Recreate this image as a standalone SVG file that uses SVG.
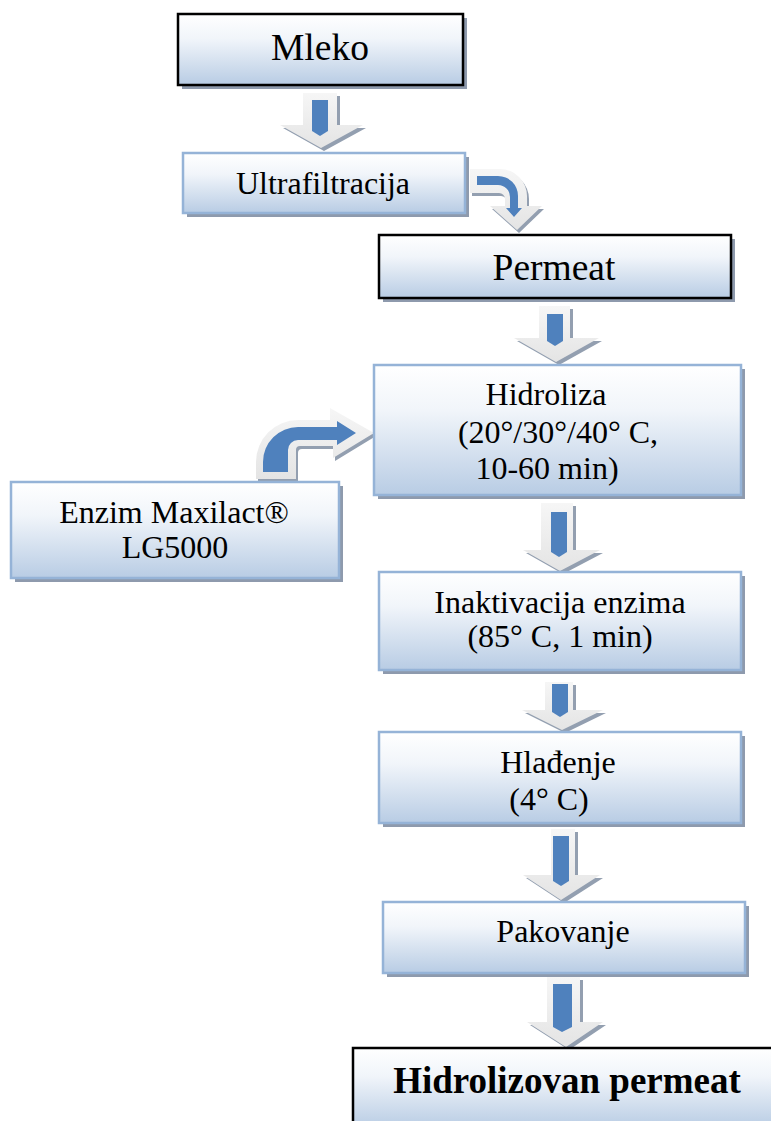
<svg xmlns="http://www.w3.org/2000/svg" width="771" height="1121" viewBox="0 0 771 1121">
<defs>
<linearGradient id="boxg" x1="0" y1="0" x2="0" y2="1">
<stop offset="0" stop-color="#ffffff"/>
<stop offset="0.35" stop-color="#f1f5fa"/>
<stop offset="1" stop-color="#b8cce4"/>
</linearGradient>
<linearGradient id="arrg" x1="0" y1="0" x2="0" y2="1">
<stop offset="0" stop-color="#f6f6f6"/>
<stop offset="1" stop-color="#e4e4e4"/>
</linearGradient>
<style>
.bx{fill:url(#boxg);stroke:#95b3d7;stroke-width:2.5}
.bk{fill:url(#boxg);stroke:#000;stroke-width:2.5}
.sh{fill:#8e9aad}
.al{fill:url(#arrg)}
.as{fill:#939fb0}
.ab{fill:#4f81bd}
text{font-family:"Liberation Serif","Times New Roman",serif;fill:#000;text-anchor:middle}
.t36{font-size:37.5px}
.t31{font-size:32px}
.tb{font-size:37px;font-weight:bold}
</style>
</defs>
<rect width="771" height="1121" fill="#fff"/>
<g id="connectors">
<g id="a1">
<polygon class="as" transform="translate(3,3)" points="303,93 337,93 337,125 363,125 321,148 280,125 303,125"/>
<polygon class="al" points="303,93 337,93 337,125 363,125 321,148 280,125 303,125"/>
<polygon class="ab" points="312,100 328,100 328,131 320,136 312,131"/>
</g>
<g id="a2">
<path class="as" transform="translate(2,3)" d="M470 169 L500 169 A27 27 0 0 1 527 196 L527 206 L542 206 L517 230 L490 206 L505 206 L505 199 A6 6 0 0 0 499 193 L470 193 Z"/>
<path class="al" d="M470 169 L500 169 A27 27 0 0 1 527 196 L527 206 L542 206 L517 230 L490 206 L505 206 L505 199 A6 6 0 0 0 499 193 L470 193 Z"/>
<path class="ab" d="M477 176 L498 176 A20 20 0 0 1 518 196 L518 208 L522 208 L514 217 L506 208 L510 208 L510 197 A12 12 0 0 0 498 185 L477 185 Z"/>
</g>
<g id="a3">
<polygon class="as" transform="translate(3,3)" points="539,306 570,306 570,338 599,338 556,362 514,338 539,338"/>
<polygon class="al" points="539,306 570,306 570,338 599,338 556,362 514,338 539,338"/>
<polygon class="ab" points="547,314 563,314 563,341 555,346 547,341"/>
</g>
<g id="a4">
<path class="as" transform="translate(2,3)" d="M256 479 L256 462 A42 42 0 0 1 298 420 L330 420 L330 408 L374 433 L333 458 L333 446 L300 446 A4 4 0 0 0 296 450 L296 479 Z"/>
<path class="al" d="M256 479 L256 462 A42 42 0 0 1 298 420 L330 420 L330 408 L374 433 L333 458 L333 446 L300 446 A4 4 0 0 0 296 450 L296 479 Z"/>
<path class="ab" d="M263 472 L263 462 A35 35 0 0 1 298 427 L337 427 L337 421 L356 433 L337 445 L337 440 L298 440 A10 10 0 0 0 288 450 L288 472 Z"/>
</g>
<g id="a5">
<polygon class="as" transform="translate(3,3)" points="541,503 573,503 573,550 600,550 560,571 523,550 541,550"/>
<polygon class="al" points="541,503 573,503 573,550 600,550 560,571 523,550 541,550"/>
<polygon class="ab" points="551,512 567,512 567,552 559,557 551,552"/>
</g>
<g id="a6">
<polygon class="as" transform="translate(3,3)" points="545,682 573,682 573,710 603,710 562,730 522,710 545,710"/>
<polygon class="al" points="545,682 573,682 573,710 603,710 562,730 522,710 545,710"/>
<polygon class="ab" points="552,684 568,684 568,712 560,717 552,712"/>
</g>
<g id="a7">
<polygon class="as" transform="translate(3,3)" points="551,829 575,829 575,875 600,875 561,900 523,875 551,875"/>
<polygon class="al" points="551,829 575,829 575,875 600,875 561,900 523,875 551,875"/>
<polygon class="ab" points="553,836 569,836 569,881 561,886 553,881"/>
</g>
<g id="a8">
<polygon class="as" transform="translate(3,3)" points="547,977 580,977 580,1022 603,1022 566,1047 527,1022 547,1022"/>
<polygon class="al" points="547,977 580,977 580,1022 603,1022 566,1047 527,1022 547,1022"/>
<polygon class="ab" points="553,984 572,984 572,1027 562,1032 553,1027"/>
</g>
</g>
<g id="mleko">
<rect class="sh" x="182" y="18" width="285" height="71"/>
<rect class="bk" x="178" y="14" width="285" height="71"/>
<text class="t36" x="320" y="60">Mleko</text>
</g>
<g id="ultrafiltracija">
<rect class="sh" x="187" y="157" width="282" height="60"/>
<rect class="bx" x="183" y="153" width="282" height="60"/>
<text class="t31" x="323" y="194">Ultrafiltracija</text>
</g>
<g id="permeat">
<rect class="sh" x="383" y="239" width="352" height="63"/>
<rect class="bk" x="379" y="235" width="352" height="63"/>
<text class="t36" x="554" y="280">Permeat</text>
</g>
<g id="hidroliza">
<rect class="sh" x="378" y="369" width="367" height="130"/>
<rect class="bx" x="374" y="365" width="367" height="130"/>
<text class="t31" x="546" y="405">Hidroliza</text>
<text class="t31" x="558" y="443">(20°/30°/40° C,</text>
<text class="t31" x="547" y="479">10-60 min)</text>
</g>
<g id="enzim">
<rect class="sh" x="15" y="486" width="328" height="96"/>
<rect class="bx" x="11" y="482" width="328" height="96"/>
<text class="t31" x="174" y="523">Enzim Maxilact®</text>
<text class="t31" x="175" y="558">LG5000</text>
</g>
<g id="inaktivacija">
<rect class="sh" x="383" y="576" width="362" height="98"/>
<rect class="bx" x="379" y="572" width="362" height="98"/>
<text class="t31" x="560" y="613">Inaktivacija enzima</text>
<text class="t31" x="560" y="647">(85° C, 1 min)</text>
</g>
<g id="hladjenje">
<rect class="sh" x="383" y="736" width="362" height="91"/>
<rect class="bx" x="379" y="732" width="362" height="91"/>
<text class="t31" x="558" y="773">Hlađenje</text>
<text class="t31" x="549" y="810">(4° C)</text>
</g>
<g id="pakovanje">
<rect class="sh" x="387" y="906" width="362" height="71"/>
<rect class="bx" x="383" y="902" width="362" height="71"/>
<text class="t31" x="563" y="942">Pakovanje</text>
</g>
<g id="hidrolizovan">
<rect class="sh" x="357" y="1052" width="420" height="80"/>
<rect class="bk" x="353" y="1048" width="420" height="80"/>
<text class="tb" x="567" y="1093">Hidrolizovan permeat</text>
</g>
</svg>
